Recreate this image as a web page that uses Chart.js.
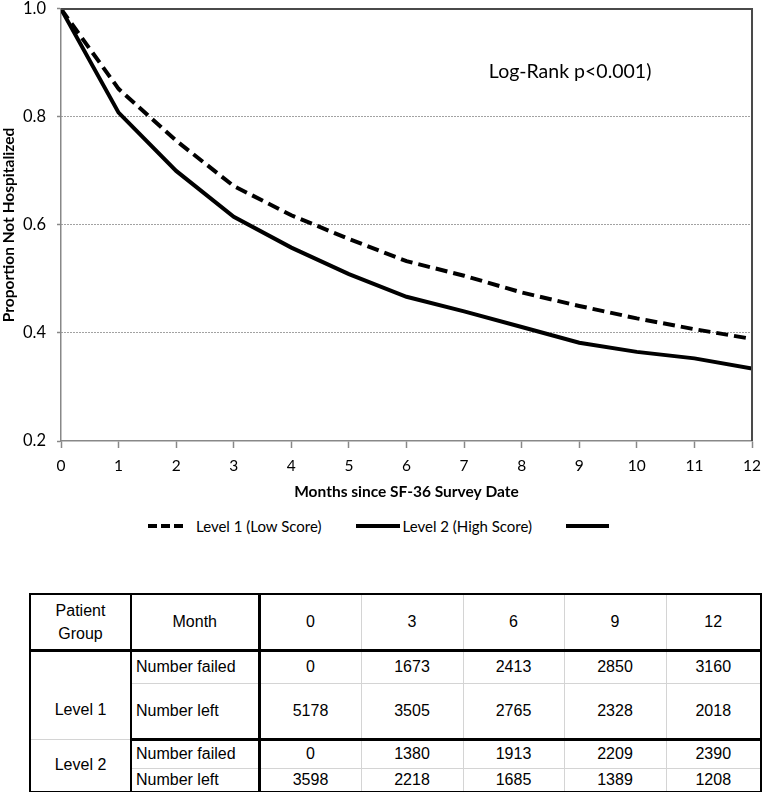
<!DOCTYPE html>
<html>
<head>
<meta charset="utf-8">
<script src="https://cdn.jsdelivr.net/npm/chart.js@4"></script>
<style>
body { margin: 0; background: #fff; }
#wrap { position: relative; width: 770px; height: 792px; overflow: hidden; }
#chart { position: absolute; left: 0; top: -12px; }
#legend { position: absolute; left: 148px; top: 514px; height: 24px; display: flex; align-items: center; font: 15px Lato, sans-serif; color: #000; white-space: nowrap; }
#legend .item { display: flex; align-items: center; }
#legend svg { display: block; }
#tbl { position: absolute; left: 29px; top: 593px; width: 731px; border-collapse: collapse; table-layout: fixed; font: 16px "Liberation Sans", Arial, sans-serif; color: #000; border: 2px solid #000; }
#tbl td { border: 1px solid #d4d4d4; text-align: center; padding: 0; vertical-align: middle; }
#tbl td.lab { text-align: left; padding-left: 4px; border-right: 3px solid #000; border-left: 2px solid #000; }
#tbl td.grp { border-right: 2px solid #000; }
#tbl tr.head td { border-bottom: 3px solid #000; line-height: 23px; }
#tbl tr.head td.mon { border-right: 3px solid #000; border-left: 2px solid #000; }
#tbl tr.end td { border-bottom: 3px solid #000; }
#tbl td.grp.l1 { padding-top: 30px; }
</style>
</head>
<body>
<div id="wrap">
  <canvas id="chart" width="770" height="517"></canvas>
  <div id="legend"></div>
  <table id="tbl"></table>
</div>
<script>
// survival curves
var months = [0, 1, 2, 3, 4, 5, 6, 7, 8, 9, 10, 11, 12];
var level1 = [1.0, 0.852, 0.756, 0.672, 0.618, 0.574, 0.533, 0.506, 0.475, 0.450, 0.427, 0.407, 0.389];
var level2 = [1.0, 0.808, 0.700, 0.615, 0.558, 0.509, 0.467, 0.440, 0.411, 0.382, 0.365, 0.353, 0.334];
var yTicks = [0.2, 0.4, 0.6, 0.8, 1.0];
var seriesLabels = ["Level 1 (Low Score)", "Level 2 (High Score)", ""];
var noteText = "Log-Rank p<0.001)";

// numbers at risk table
var tableMonths = [0, 3, 6, 9, 12];
var level1Failed = [0, 1673, 2413, 2850, 3160];
var level1Left = [5178, 3505, 2765, 2328, 2018];
var level2Failed = [0, 1380, 1913, 2209, 2390];
var level2Left = [3598, 2218, 1685, 1389, 1208];

function toPoints(ys) {
    return months.map(function (m, i) { return { x: m, y: ys[i] }; });
}

var frame = {
    id: 'frame',
    afterDraw: function (chart) {
        var ctx = chart.ctx, a = chart.chartArea, s = chart.scales;
        ctx.save();
        ctx.strokeStyle = '#4a4a4a';
        ctx.lineWidth = 2;
        ctx.beginPath();
        ctx.moveTo(a.left, a.top);
        ctx.lineTo(a.right, a.top);
        ctx.lineTo(a.right, a.bottom);
        ctx.stroke();
        ctx.fillStyle = '#000';
        ctx.font = '19.5px Lato';
        ctx.textBaseline = 'middle';
        ctx.fillText(noteText, s.x.getPixelForValue(7.43), s.y.getPixelForValue(0.883));
        ctx.restore();
    }
};

var ctx = document.getElementById("chart");
var myChart = new Chart(ctx, {
    type: 'line',
    data: {
        datasets: [
            { label: seriesLabels[0], data: toPoints(level1), borderColor: '#000', borderWidth: 4, borderDash: [12, 6], pointRadius: 0, tension: 0, fill: false },
            { label: seriesLabels[1], data: toPoints(level2), borderColor: '#000', borderWidth: 4, pointRadius: 0, tension: 0, fill: false }
        ]
    },
    options: {
        responsive: false,
        animation: false,
        layout: { autoPadding: false, padding: { top: 0, right: 11, bottom: 0, left: 0 } },
        plugins: { legend: { display: false }, tooltip: { enabled: false } },
        scales: {
            x: {
                type: 'linear',
                min: 0,
                max: 12,
                afterBuildTicks: function (s) { s.ticks = months.map(function (v) { return { value: v }; }); },
                afterFit: function (s) { s.height = 64; },
                grid: { drawOnChartArea: false, tickLength: 7, tickColor: '#888', tickWidth: 1.5 },
                border: { color: '#888', width: 1.5 },
                ticks: { color: '#000', font: { family: 'Lato', size: 15.5 }, padding: 9, maxRotation: 0 },
                title: { display: true, text: 'Months since SF-36 Survey Date', color: '#000', font: { family: 'Lato', size: 15.5, weight: 'bold' }, padding: { top: 4, bottom: 4 } }
            },
            y: {
                min: 0.2,
                max: 1.0,
                afterBuildTicks: function (s) { s.ticks = yTicks.map(function (v) { return { value: v }; }); },
                afterFit: function (s) { s.width = 61; },
                grid: {
                    color: function (c) {
                        var v = c.tick ? c.tick.value : 0;
                        return (v < 0.3 || v > 0.95) ? 'rgba(0,0,0,0)' : '#444';
                    },
                    lineWidth: 1,
                    tickLength: 4,
                    tickColor: '#888',
                    tickWidth: 1.5
                },
                border: { color: '#888', width: 1.5, dash: [1, 2] },
                ticks: { color: '#000', font: { family: 'Lato', size: 16.5 }, padding: 11, callback: function (v) { return v.toFixed(1); } },
                title: { display: true, text: 'Proportion Not Hospitalized', color: '#000', font: { family: 'Lato', size: 15.5, weight: 'bold' }, padding: 0 }
            }
        }
    },
    plugins: [frame]
});

// legend below the x axis title
var legendBox = document.getElementById("legend");
var sampleWidths = [35, 44, 43];
var textGaps = [13, 3, 0];
seriesLabels.forEach(function (label, i) {
    var item = document.createElement("div");
    item.className = "item";
    if (i > 0) item.style.marginLeft = "34px";
    var w = sampleWidths[i];
    var dash = i === 0 ? ' stroke-dasharray="9,4"' : '';
    item.innerHTML = '<svg width="' + w + '" height="8"><line x1="0" y1="4" x2="' + w + '" y2="4" stroke="#000" stroke-width="4"' + dash + '/></svg>' +
        (label ? '<span style="margin-left:' + textGaps[i] + 'px">' + label + '</span>' : '');
    legendBox.appendChild(item);
});

// table of patients at risk
function cells(arr) {
    return arr.map(function (v) { return '<td>' + v + '</td>'; }).join('');
}
var html = '<colgroup><col style="width:101px"><col style="width:128px"><col style="width:102px"><col style="width:102px"><col style="width:101px"><col style="width:102px"><col style="width:95px"></colgroup>';
html += '<tr class="head" style="height:56px"><td class="grp">Patient<br>Group</td><td class="mon">Month</td>' + cells(tableMonths) + '</tr>';
html += '<tr style="height:33px"><td class="grp l1" rowspan="2">Level 1</td><td class="lab">Number failed</td>' + cells(level1Failed) + '</tr>';
html += '<tr class="end" style="height:56px"><td class="lab">Number left</td>' + cells(level1Left) + '</tr>';
html += '<tr style="height:29px"><td class="grp" rowspan="2">Level 2</td><td class="lab">Number failed</td>' + cells(level2Failed) + '</tr>';
html += '<tr style="height:24px"><td class="lab">Number left</td>' + cells(level2Left) + '</tr>';
document.getElementById("tbl").innerHTML = html;
</script>
</body>
</html>
